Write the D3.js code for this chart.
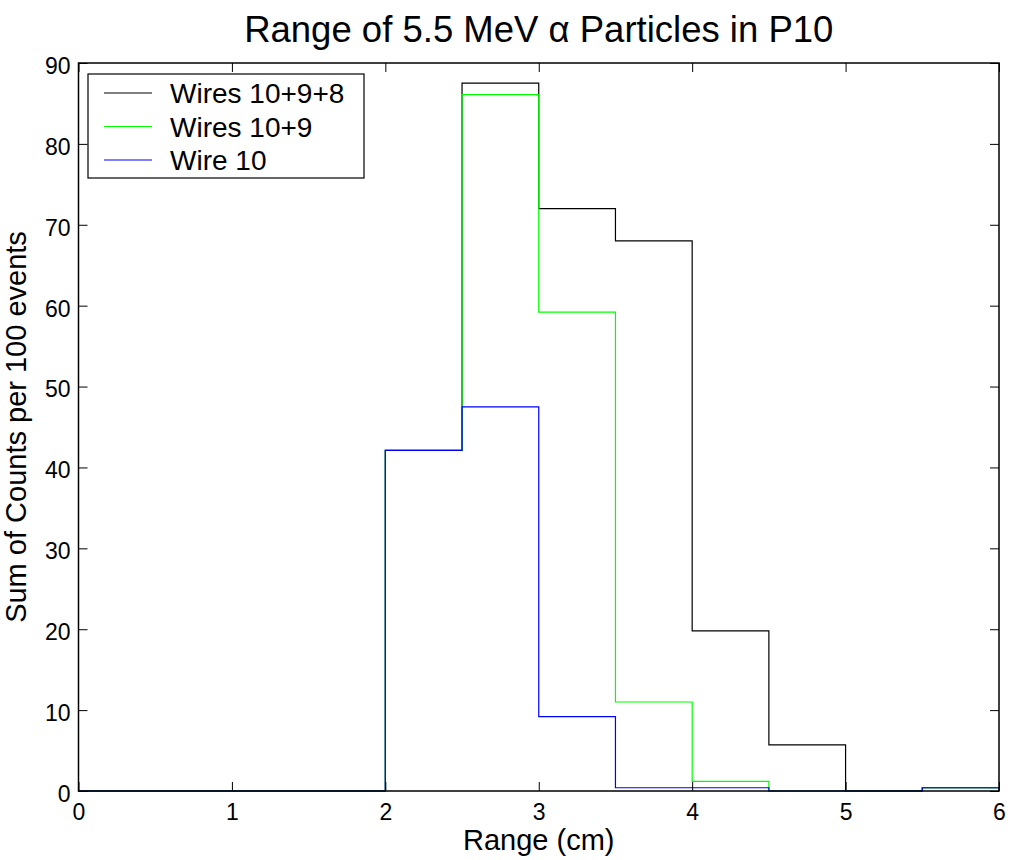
<!DOCTYPE html>
<html><head><meta charset="utf-8">
<script src="https://cdn.jsdelivr.net/npm/d3@7"></script>
<style>body{margin:0;background:#fff}</style>
</head><body>
<svg id="c" width="1011" height="860"></svg>
<script>
const binEdges = [0,0.5,1,1.5,2,2.5,3,3.5,4,4.5,5,5.5,6];
const wires1098 = [0,0,0,0,42.1,87.5,72,68,19.8,5.7,0,0.4];
const wires109 = [0,0,0,0,42.1,86.1,59.2,11,1.2,0,0,0.4];
const wire10 = [0,0,0,0,42.1,47.5,9.2,0.4,0.4,0,0,0.4];
const seriesNames = ["Wires 10+9+8","Wires 10+9","Wire 10"];
const seriesColors = ["#000000","#00ff00","#0000ff"];
const xTicks = [0,1,2,3,4,5,6];
const yTicks = [0,10,20,30,40,50,60,70,80,90];

(function(){
const svg = d3.select("#c");
const L=78.5, R=999, T=63, B=791;
const x = d3.scaleLinear().domain([0,6]).range([L,R]);
const y = d3.scaleLinear().domain([0,90]).range([B,T]);
const font = "'Liberation Sans', Arial, sans-serif";

svg.append("rect").attr("x",0).attr("y",0).attr("width",1011).attr("height",860).attr("fill","#fff");

const all = [wires1098, wires109, wire10];
const line = d3.line().x(d=>x(d[0])).y(d=>y(d[1]));
all.forEach((vals,i)=>{
  const pts = [[binEdges[0],0]];
  vals.forEach((v,j)=>{ pts.push([binEdges[j],v]); pts.push([binEdges[j+1],v]); });
  pts.push([binEdges[binEdges.length-1],0]);
  svg.append("path").attr("d",line(pts)).attr("fill","none")
    .attr("stroke",seriesColors[i]).attr("stroke-width",1.2);
});

svg.append("rect").attr("x",L).attr("y",T).attr("width",R-L).attr("height",B-T)
  .attr("fill","none").attr("stroke","#000").attr("stroke-width",1.5);

const tl = 9;
const gB = svg.append("g").attr("transform",`translate(0,${B})`)
  .call(d3.axisBottom(x).tickValues(xTicks).tickSizeInner(-tl).tickSizeOuter(0).tickPadding(12.5).tickFormat(d3.format("d")));
const gT = svg.append("g").attr("transform",`translate(0,${T})`)
  .call(d3.axisTop(x).tickValues(xTicks).tickSizeInner(-tl).tickSizeOuter(0).tickFormat(""));
const gL = svg.append("g").attr("transform",`translate(${L},0)`)
  .call(d3.axisLeft(y).tickValues(yTicks).tickSizeInner(-tl).tickSizeOuter(0).tickPadding(8).tickFormat(d3.format("d")));
const gR = svg.append("g").attr("transform",`translate(${R},0)`)
  .call(d3.axisRight(y).tickValues(yTicks).tickSizeInner(-tl).tickSizeOuter(0).tickFormat(""));
[gB,gT,gL,gR].forEach(g=>{
  g.select(".domain").remove();
  g.selectAll("line").attr("stroke","#000").attr("stroke-width",1);
  g.selectAll("text").attr("font-family",font).attr("font-size",23).attr("fill","#000");
});
gL.selectAll("text").attr("dy","0.45em");

svg.append("text").attr("x",(L+R)/2).attr("y",42).attr("text-anchor","middle")
  .attr("font-family",font).attr("font-size",36.5).attr("fill","#000")
  .text("Range of 5.5 MeV \u03b1 Particles in P10");
svg.append("text").attr("x",(L+R)/2).attr("y",849.5).attr("text-anchor","middle")
  .attr("font-family",font).attr("font-size",29).attr("fill","#000").text("Range (cm)");
svg.append("text").attr("transform",`translate(26,${(T+B)/2}) rotate(-90)`).attr("text-anchor","middle")
  .attr("font-family",font).attr("font-size",29).attr("fill","#000").text("Sum of Counts per 100 events");

const lg = svg.append("g");
lg.append("rect").attr("x",88).attr("y",74).attr("width",276).attr("height",104)
  .attr("fill","#fff").attr("stroke","#000").attr("stroke-width",1.2);
seriesNames.forEach((n,i)=>{
  const yy = 93 + i*33.5;
  lg.append("line").attr("x1",104).attr("x2",152).attr("y1",yy).attr("y2",yy)
    .attr("stroke",seriesColors[i]).attr("stroke-width",1.2);
  lg.append("text").attr("x",170).attr("y",yy+10).attr("font-family",font)
    .attr("font-size",28).attr("fill","#000").text(n);
});
})();
</script>
</body></html>
